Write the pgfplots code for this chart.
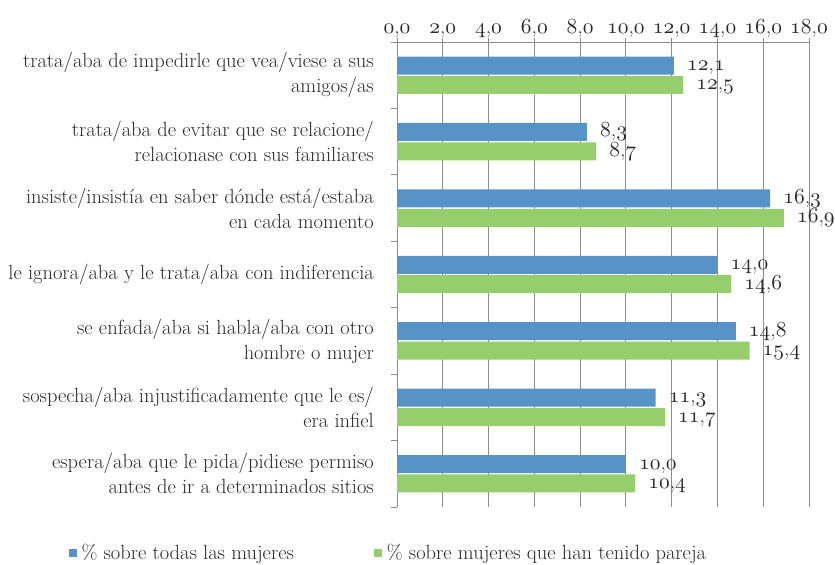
\RequirePackage{fix-cm}
\documentclass[border=0pt]{standalone}
\usepackage{pgfplots}
\pgfplotsset{compat=1.18}
\definecolor{barblue}{RGB}{88,147,200}
\definecolor{bargreen}{RGB}{150,206,110}
\definecolor{gridgray}{RGB}{140,140,140}
\definecolor{txt}{RGB}{40,40,40}
\DeclareFontShape{OML}{cmm}{m}{it}{<->cmmi10}{}
\newcommand{\lab}{\fontsize{20.5bp}{25bp}\selectfont\color{txt}}
\newcommand{\num}{\fontsize{21.5bp}{25bp}\selectfont\color{txt}}
\newcommand{\osd}[1]{{\usefont{OML}{cmm}{m}{it}#1}}
\newcommand{\os}[2]{\osd{#1},\osd{#2}}
\def\osA#1.#2\relax{\osd{#1},\osd{#2}}
\newcommand{\osmeta}{\expandafter\osA\pgfplotspointmeta\relax}
\begin{document}
\begin{tikzpicture}[x=1bp,y=1bp]
\useasboundingbox (0,0) rectangle (835,565);
\begin{axis}[
  at={(397bp,58bp)}, anchor=south west,
  scale only axis, width=412bp, height=465bp,
  xbar, bar width=18bp,
  xmin=0, xmax=18, ymin=-0.5, ymax=6.5,
  axis x line*=top, axis y line*=left,
  axis line style={draw=gridgray, line width=0.9bp, -},
  xtick={0,2,...,18},
  xticklabels={{\os{0}{0}},{\os{2}{0}},{\os{4}{0}},{\os{6}{0}},{\os{8}{0}},{\os{10}{0}},{\os{12}{0}},{\os{14}{0}},{\os{16}{0}},{\os{18}{0}}},
  xmajorgrids, grid style={draw=gridgray, line width=0.9bp},
  tick align=outside, major tick length=4bp, minor tick length=6bp,
  tick style={draw=gridgray, line width=0.9bp},
  ytick={0,...,6},
  yticklabels={
    {espera/aba que le pida/pidiese permiso\\antes de ir a determinados sitios},
    {sospecha/aba injustificadamente que le es/\\era infiel},
    {se enfada/aba si habla/aba con otro\\hombre o mujer},
    {le ignora/aba y le trata/aba con indiferencia},
    {insiste/insistía en saber dónde está/estaba\\en cada momento},
    {trata/aba de evitar que se relacione/\\relacionase con sus familiares},
    {trata/aba de impedirle que vea/viese a sus\\amigos/as}},
  major y tick style={draw=none},
  minor ytick={-0.5,0.5,...,6.5},
  yticklabel style={font=\lab, align=right, inner sep=0pt, xshift=-19bp},
  xticklabel style={font=\num, inner sep=0pt, text depth=0pt, yshift=4bp},
  point meta=explicit symbolic,
  nodes near coords={\osmeta},
  every node near coord/.append style={font=\num, anchor=base west, inner sep=0pt, xshift=13bp, yshift=-5bp},
  legend style={at={(-0.805,-0.099)}, anchor=west, draw=none, fill=none, font=\lab,
    legend columns=2, /tikz/every even column/.append style={column sep=78bp}},
  legend cell align=left,
  legend image code/.code={\fill[#1] (0bp,-4bp) rectangle (8bp,4bp); \path (11bp,0bp);},
]
\addplot[fill=barblue, draw=none, bar shift=9.7bp] coordinates {
  (10.0,0) [10.0] (11.3,1) [11.3] (14.8,2) [14.8] (14.0,3) [14.0]
  (16.3,4) [16.3] (8.3,5) [8.3] (12.1,6) [12.1]};
\addlegendentry{\% sobre todas las mujeres}
\addplot[fill=bargreen, draw=none, bar shift=-9.7bp] coordinates {
  (10.4,0) [10.4] (11.7,1) [11.7] (15.4,2) [15.4] (14.6,3) [14.6]
  (16.9,4) [16.9] (8.7,5) [8.7] (12.5,6) [12.5]};
\addlegendentry{\% sobre mujeres que han tenido pareja}
\end{axis}
\end{tikzpicture}
\end{document}
